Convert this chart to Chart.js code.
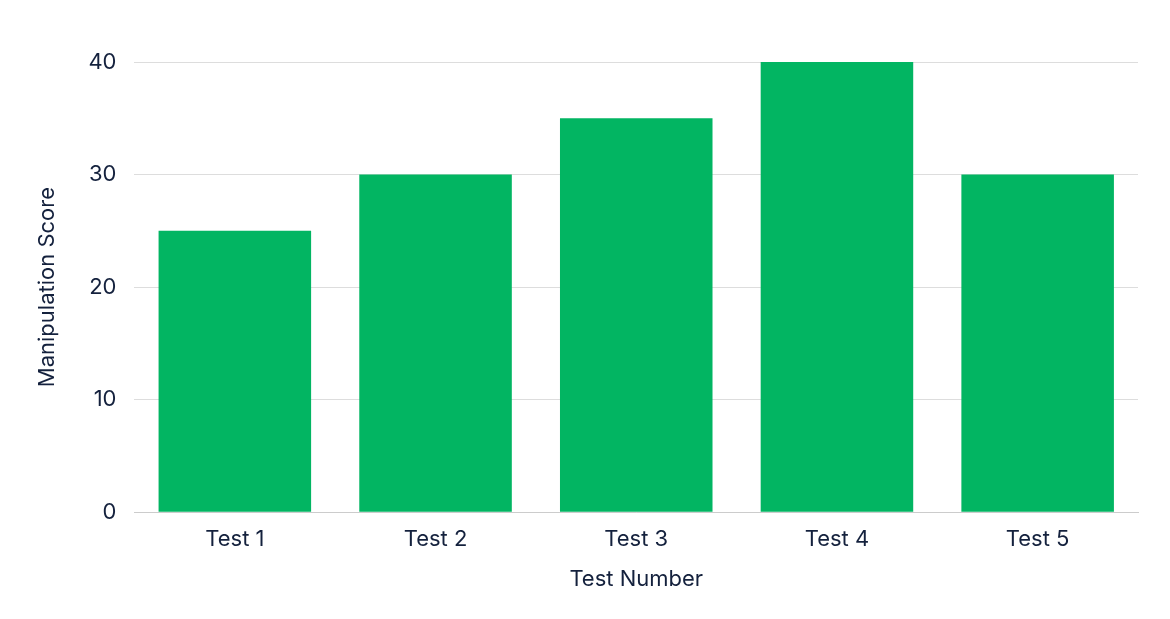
<!DOCTYPE html>
<html><head><meta charset="utf-8">
<script src="https://cdn.jsdelivr.net/npm/chart.js@4"></script>
<style>html,body{margin:0;padding:0;background:#fff}#w{width:1170px;height:619px}</style>
</head><body><div id="w"><canvas id="c"></canvas></div>
<script>
const categories = ["Test 1","Test 2","Test 3","Test 4","Test 5"];
const scores = [25,30,35,40,30];
const yTicks = [0,10,20,30,40];
const txt = "#14213d";
new Chart(document.getElementById('c'), {
  type: 'bar',
  data: { labels: categories, datasets: [{ data: scores, backgroundColor: '#02b562', barPercentage: 0.76, categoryPercentage: 1 }] },
  options: {
    responsive: true, maintainAspectRatio: false, animation: false,
    layout: { padding: { top: 62, right: 32, left: 30, bottom: 22 } },
    plugins: { legend: { display: false }, tooltip: { enabled: false } },
    scales: {
      x: { grid: { display: false }, border: { color: '#cccccc' },
           ticks: { color: txt, font: { family: 'Inter', size: 22 }, padding: 6 },
           title: { display: true, text: 'Test Number', color: txt, font: { family: 'Inter', size: 22 }, padding: { top: 8 } } },
      y: { min: 0, max: 40, afterBuildTicks: a => { a.ticks = yTicks.map(v => ({ value: v })); },
           grid: { color: '#dddddd', drawTicks: false }, border: { display: false },
           ticks: { color: txt, font: { family: 'Inter', size: 22 }, padding: 18 },
           title: { display: true, text: 'Manipulation Score', color: txt, font: { family: 'Inter', size: 22 }, padding: { bottom: 10 } } }
    }
  }
});
</script></body></html>
